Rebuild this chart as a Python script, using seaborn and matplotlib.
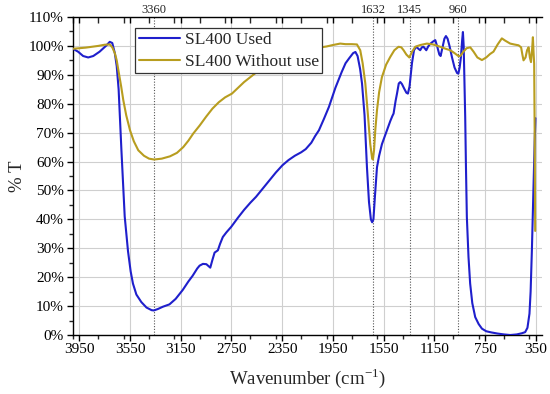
import numpy as np
import pandas as pd
import matplotlib
matplotlib.use("Agg")
import matplotlib.pyplot as plt
import seaborn as sns
from matplotlib.ticker import MultipleLocator, PercentFormatter
from matplotlib.transforms import blended_transform_factory

# ---- data ----
used_wn = [4000, 3960, 3920, 3880, 3840, 3790, 3740, 3710, 3690, 3670, 3655, 3640, 3618, 3600,
           3592, 3575, 3566, 3545, 3527, 3500, 3461, 3420, 3380, 3362, 3330, 3290, 3239, 3190,
           3134, 3090, 3056, 3020, 3001, 2975, 2948, 2930, 2917, 2900, 2883, 2857, 2840, 2818,
           2790, 2752, 2700, 2650, 2600, 2556, 2500, 2450, 2400, 2348, 2300, 2250, 2200, 2164,
           2120, 2090, 2060, 2020, 1981, 1930, 1880, 1850, 1820, 1790, 1772, 1755, 1735, 1720,
           1700, 1681, 1665, 1650, 1640, 1630, 1618, 1602, 1585, 1563, 1530, 1497, 1480, 1471,
           1455, 1444, 1430, 1418, 1405, 1387, 1370, 1358, 1345, 1326, 1310, 1292, 1275, 1261,
           1248, 1235, 1222, 1213, 1198, 1182, 1160, 1142, 1125, 1110, 1100, 1085, 1070, 1058,
           1045, 1030, 1010, 990, 970, 960, 950, 940, 930, 924, 918, 912, 906, 900, 893, 880,
           867, 850, 827, 800, 774, 740, 700, 650, 600, 551, 500, 460, 433, 415, 399, 390, 380,
           367, 358, 352]
used_t = [99.0, 98.0, 96.5, 96.0, 96.5, 98.0, 100.0, 101.4, 101.0, 97.5, 93, 85, 64, 48,
          41, 33, 29, 22, 17.8, 14, 11.4, 9.5, 8.6, 8.5, 9.0, 9.8, 10.6, 12.5,
          15.6, 18.5, 20.5, 23.0, 24.0, 24.6, 24.5, 23.8, 23.3, 26.0, 28.5, 29.3, 31.5, 33.9,
          35.5, 37.4, 40.5, 43.3, 45.8, 47.8, 50.8, 53.5, 56.2, 58.7, 60.5, 62.0, 63.2, 64.3,
          66.5, 68.8, 70.8, 74.8, 78.9, 85.5, 91, 94, 95.8, 97.5, 97.9, 96.5, 92, 87,
          76, 58, 46, 40, 39, 40, 48, 58, 62, 66, 70, 74, 75.8, 76.6,
          81, 83.5, 87, 87.5, 86.8, 85.2, 83.8, 83.5, 86, 94, 98.5, 99.7, 99.0, 98.5,
          99.5, 99.7, 99, 98.5, 99.8, 100.7, 101.5, 102, 99.5, 97, 96.5, 99.5, 102.5, 103.4,
          102.5, 100, 96, 92.5, 90.6, 90.4, 92.5, 96, 102, 104.8, 100, 88, 75.4, 58, 40.8, 27,
          17.8, 11, 6.2, 3.8, 2.2, 1.3, 0.9, 0.5, 0.2, 0.0, 0.2, 0.6, 1.0, 2.5, 7.4, 15, 29.3,
          52, 67, 75]

new_wn = [4000, 3950, 3900, 3850, 3800, 3750, 3710, 3690, 3670, 3655, 3642, 3620, 3603, 3580,
          3550, 3520, 3485, 3440, 3400, 3360, 3300, 3235, 3180, 3130, 3090, 3051, 3000, 2950,
          2900, 2850, 2800, 2746, 2650, 2549, 2450, 2350, 2250, 2150, 2073, 2000, 1950, 1892,
          1850, 1800, 1760, 1734, 1715, 1694, 1675, 1655, 1640, 1634, 1625, 1615, 1602, 1585,
          1563, 1530, 1497, 1465, 1432, 1410, 1392, 1370, 1347, 1325, 1300, 1260, 1208, 1160,
          1103, 1060, 1024, 990, 960, 945, 920, 895, 866, 840, 810, 774, 740, 710, 683, 650,
          617, 590, 551, 520, 485, 465, 455, 446, 430, 418, 406, 396, 387, 378, 372, 367, 362,
          358, 354]
new_t = [99.0, 99.2, 99.4, 99.7, 100.0, 100.4, 100.5, 99.5, 97.5, 95, 91.6, 86, 81.2, 76,
         70.8, 67, 63.9, 62, 61, 60.7, 61.0, 61.8, 63, 65, 67.2, 69.7, 72.5, 75.5,
         78.3, 80.5, 82.2, 83.5, 87.5, 91, 94, 96.5, 98.3, 99.2, 99.3, 99.8, 100.3, 100.8,
         100.6, 100.6, 100.5, 98.5, 94, 87, 77, 66, 61, 60.7, 64, 71, 77.7, 84,
         89.2, 93.5, 96.2, 98.5, 99.7, 99.5, 98.5, 97, 96, 98, 99.7, 100.3, 100.8, 100.5,
         99.7, 99, 98.5, 97.5, 96.5, 96.5, 98, 99.2, 99.5, 98, 96, 95.1, 96, 97.2, 98, 100.5,
         102.6, 101.8, 100.8, 100.5, 100.2, 99.5, 97, 95, 96, 98.5, 99.5, 96, 94.4, 99, 103, 98,
         93.8, 70, 36]

series_names = ["SL400 Used", "SL400 Without use"]
peak_positions = [3360, 1632, 1345, 960]
peak_labels = ["3360", "1632", "1345", "960"]
x_ticks = [3950, 3550, 3150, 2750, 2350, 1950, 1550, 1150, 750, 350]

df = pd.concat([
    pd.DataFrame({"wn": used_wn, "T": used_t, "sample": series_names[0]}),
    pd.DataFrame({"wn": new_wn, "T": new_t, "sample": series_names[1]}),
], ignore_index=True)

sns.set_style("ticks")
plt.rcParams["font.family"] = ["Liberation Serif", "DejaVu Serif"]
plt.rcParams["mathtext.fontset"] = "custom"
plt.rcParams["mathtext.rm"] = "Liberation Serif"

fig = plt.figure(figsize=(5.5, 3.94), dpi=100)
ax = fig.add_axes([0.1327, 0.1497, 0.8528, 0.8072])

# grid
ax.set_axisbelow(True)
ax.grid(True, which="major", color="#cfcfcf", linewidth=0.8)

# dotted reference lines
for p in peak_positions:
    ax.axvline(p, color="#555555", linestyle=(0, (1, 1.5)), linewidth=0.8, zorder=1.5)

sns.lineplot(data=df, x="wn", y="T", hue="sample", sort=False, estimator=None,
             palette=["#1f1fcc", "#b89d1f"], linewidth=1.5, ax=ax, zorder=3)

ax.set_xlim(4000, 300)
ax.set_ylim(0, 110)
ax.set_xticks(x_ticks)
ax.xaxis.set_minor_locator(MultipleLocator(200))
ax.yaxis.set_major_locator(MultipleLocator(10))
ax.yaxis.set_minor_locator(MultipleLocator(5))
ax.yaxis.set_major_formatter(PercentFormatter(xmax=100, decimals=0))

ax.tick_params(axis="both", which="major", labelsize=11, direction="out", length=4, width=1, colors="black")
ax.tick_params(axis="both", which="minor", direction="out", length=3, width=1)
ax.tick_params(axis="x", which="both", top=True)
ax.tick_params(axis="x", which="major", pad=2)
ax.tick_params(axis="y", which="major", pad=2.5)
# top ticks point inward
for t in ax.xaxis.get_major_ticks() + ax.xaxis.get_minor_ticks():
    t.tick2line.set_marker(3)  # TICKDOWN
    t.tick2line.set_markersize(4)

ax.spines["right"].set_visible(False)
for s in ["left", "bottom", "top"]:
    ax.spines[s].set_linewidth(1.0)
    ax.spines[s].set_color("black")

ax.set_xlabel("Wavenumber (cm$^{\\mathregular{-1}}$)", fontsize=13.5, labelpad=7)
ax.set_ylabel("% T", fontsize=13.5, labelpad=2)

trans = blended_transform_factory(ax.transData, ax.transAxes)
for p, lab in zip(peak_positions, peak_labels):
    ax.text(p, 1.004, lab, transform=trans, ha="center", va="bottom", fontsize=9)

leg = ax.legend(loc="upper left", bbox_to_anchor=(0.1323, 0.9654), fontsize=12.5,
                frameon=True, fancybox=False, framealpha=1, edgecolor="#333333",
                handlelength=2.4, borderpad=0.2, labelspacing=0.35, handletextpad=0.25,
                borderaxespad=0)
leg.get_frame().set_linewidth(0.9)
leg.set_zorder(5)
leg.set_title(None)

fig.savefig("out.png", dpi=100)
